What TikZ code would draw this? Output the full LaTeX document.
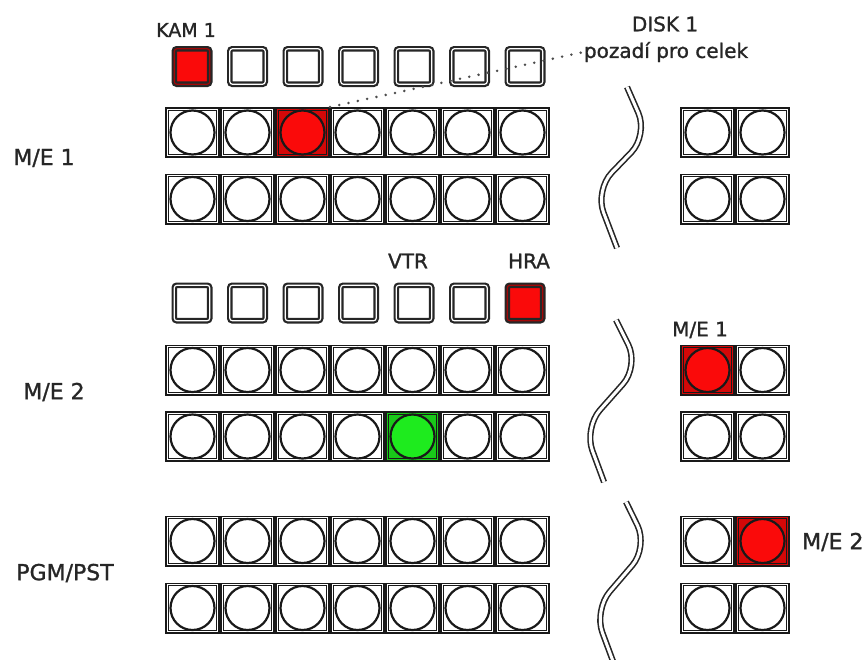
\documentclass[tikz,border=0pt]{standalone}
\usepackage{fontspec}
\usepackage{xcolor}
\usetikzlibrary{positioning}
\newfontfamily\lblfont[FakeBold=1.2]{DejaVu Sans}
\definecolor{ledred}{RGB}{250,10,10}
\definecolor{ledgreen}{RGB}{30,235,30}

\begin{document}
\begin{tikzpicture}[x=1pt, y=-1pt,
    sqkey/.style={draw=black!85, double=white, line width=2.2pt, double distance=1.2pt,
        rounded corners=2.5pt, minimum size=35.4pt, inner sep=0pt, fill=white},
    sqred/.style={sqkey, fill=ledred, draw=black!85, double=ledred!65!black},
    key/.style={draw=black!90, line width=1.9pt, minimum width=53.1pt, minimum height=49.1pt,
        inner sep=0pt, fill=white,
        path picture={
            \draw[black!90, line width=1.2pt]
                ([shift={(2.4pt,2.4pt)}]path picture bounding box.south west) rectangle
                ([shift={(-2.4pt,-2.4pt)}]path picture bounding box.north east);
            \draw[black!90, line width=2.2pt, fill=#1]
                (path picture bounding box.center) circle (22pt);}},
    key/.default=white,
    keyred/.style={key=ledred, fill=ledred!85!black},
    keygreen/.style={key=ledgreen, fill=ledgreen!85!black},
    lbl/.style={inner sep=0pt, text=black!85, font=\lblfont\fontsize{20}{22}\selectfont},
    biglbl/.style={lbl, font=\lblfont\fontsize{22}{24}\selectfont},
    wave/.style={draw=black!85, double=white, line width=1.6pt, double distance=3pt,
        rounded corners=24pt},
    dots/.style={draw=black!70, line width=2.8pt, line cap=round, dash pattern=on 0pt off 9.5pt}]
    \useasboundingbox (0,0) rectangle (866,659);

    % M/E 1
    \foreach \s [count=\i] in {sqred,sqkey,sqkey,sqkey,sqkey,sqkey,sqkey}
        \node[\s] (cam-\i) at ({192+55.5*(\i-1)},66.5) {};
    \foreach \s [count=\i] in {key,key,keyred,key,key,key,key}
        \node[\s] (mea-\i) at ({192.5+55*(\i-1)},132.5) {};
    \foreach \i in {1,...,7}
        \node[key] (meb-\i) at ({192.5+55*(\i-1)},199) {};
    \foreach \i in {1,2} {
        \node[key] (mea-r\i) at ({707.5+55*(\i-1)},132.5) {};
        \node[key] (meb-r\i) at ({707.5+55*(\i-1)},199) {};
    }

    % M/E 2
    \foreach \s [count=\i] in {sqkey,sqkey,sqkey,sqkey,sqkey,sqkey,sqred}
        \node[\s] (src-\i) at ({192+55.5*(\i-1)},303) {};
    \foreach \i in {1,...,7}
        \node[key] (mec-\i) at ({192.5+55*(\i-1)},370) {};
    \foreach \s [count=\i] in {key,key,key,key,keygreen,key,key}
        \node[\s] (med-\i) at ({192.5+55*(\i-1)},436.5) {};
    \foreach \s [count=\i] in {keyred,key}
        \node[\s] (mec-r\i) at ({707.5+55*(\i-1)},370) {};
    \foreach \i in {1,2}
        \node[key] (med-r\i) at ({707.5+55*(\i-1)},436.5) {};

    % PGM/PST
    \foreach \i in {1,...,7} {
        \node[key] (pgm-\i) at ({192.5+55*(\i-1)},541) {};
        \node[key] (pst-\i) at ({192.5+55*(\i-1)},608) {};
    }
    \foreach \s [count=\i] in {key,keyred}
        \node[\s] (pgm-r\i) at ({707.5+55*(\i-1)},541) {};
    \foreach \i in {1,2}
        \node[key] (pst-r\i) at ({707.5+55*(\i-1)},608) {};

    % breaks
    \draw[wave] (627,87) -- (648,135) -- (595,190) -- (617,248);
    \draw[wave] (616,320) -- (639,366) -- (584,428) -- (604,482);
    \draw[wave] (626,502) -- (648,547) -- (594,610) -- (617,672);

    % labels
    \node[lbl, font=\lblfont\fontsize{19}{21}\selectfont] (kam) at (186,30) {KAM 1};
    \node[lbl] (disk) at (665,24) {DISK 1};
    \node[lbl] (bg) at (666,52) {pozadí pro celek};
    \node[lbl] (vtr) at (408,261) {VTR};
    \node[lbl] (hra) at (529,261) {HRA};
    \node[biglbl] (me1) at (44,158) {M/E 1};
    \node[biglbl] (me2) at (54,392) {M/E 2};
    \node[biglbl] (pgm) at (65,573) {PGM/PST};
    \node[lbl] (me1r) at (700,330) {M/E 1};
    \node[biglbl, anchor=west] (me2r) at (802,542) {M/E 2};

    \draw[dots] (mea-3.north east) -- (bg.west);
\end{tikzpicture}
\end{document}
